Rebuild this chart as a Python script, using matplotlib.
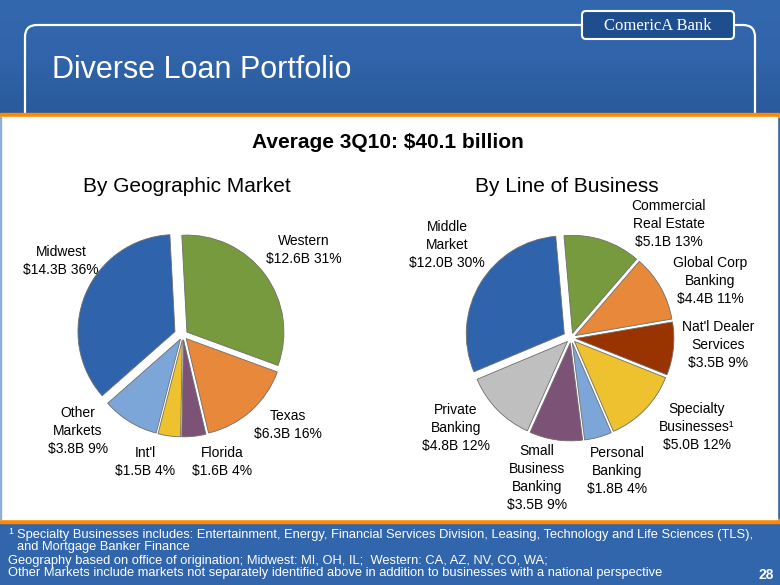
import matplotlib
matplotlib.use("Agg")
import matplotlib.pyplot as plt
import numpy as np
from matplotlib.patches import Rectangle, FancyBboxPatch
from matplotlib.colors import LinearSegmentedColormap

plt.rcParams['font.family'] = ['Liberation Sans', 'DejaVu Sans']

# data: geographic market (clockwise from top)
geo_names = ["Western", "Texas", "Florida", "Int'l", "Other\nMarkets", "Midwest"]
geo_values = [12.6, 6.3, 1.6, 1.5, 3.8, 14.3]
geo_pct = [31, 16, 4, 4, 9, 36]
geo_colors = ["#779A3F", "#E8883A", "#7D5277", "#EDC22E", "#7CA6D8", "#2F63AC"]

# data: line of business (clockwise from top)
lob_names = ["Commercial\nReal Estate", "Global Corp\nBanking", "Nat'l Dealer\nServices",
             "Specialty\nBusinesses\u00b9", "Personal\nBanking", "Small\nBusiness\nBanking",
             "Private\nBanking", "Middle\nMarket"]
lob_values = [5.1, 4.4, 3.5, 5.0, 1.8, 3.5, 4.8, 12.0]
lob_pct = [13, 11, 9, 12, 4, 9, 12, 30]
lob_colors = ["#779A3F", "#E8883A", "#993300", "#EDC22E", "#7CA6D8", "#7D5277", "#BFBFBF", "#2F63AC"]

# label centres in pixels (x, y from top)
geo_label_pos = [(304, 250), (288, 425), (222, 462), (145, 462), (78, 431), (61, 261)]
lob_label_pos = [(669, 224), (710, 281), (718, 345), (697, 427), (617, 471),
                 (537, 478), (456, 428), (447, 245)]

W, H = 780, 585
fig = plt.figure(figsize=(W / 100, H / 100), dpi=100)

# background axes in pixel coordinates
bg = fig.add_axes([0, 0, 1, 1])
bg.set_xlim(0, W)
bg.set_ylim(H, 0)
bg.axis('off')

blue = "#3165AC"
orange = "#FF8A00"
bg.add_patch(Rectangle((0, 0), W, H, color=blue, zorder=0))
# header gradient, a little darker towards the orange rule
grad = LinearSegmentedColormap.from_list("hdr", ["#3468AE", "#3164AA", "#2A5A9C"])
bg.imshow(np.linspace(0, 1, 100).reshape(-1, 1), cmap=grad, aspect="auto",
          extent=(0, W, 113, 0), zorder=0.5)
bg.set_xlim(0, W)
bg.set_ylim(H, 0)
# white frame line in header
bg.add_patch(FancyBboxPatch((25, 25), 730, 150, boxstyle="round,pad=0,rounding_size=12",
                            fc="none", ec="white", lw=1.6, zorder=1))
bg.add_patch(Rectangle((0, 113), W, 4, color=orange, zorder=2))
bg.add_patch(Rectangle((0, 519), W, 4, color=orange, zorder=2))
bg.add_patch(Rectangle((0, 117), 777, 402, color="white", zorder=3))
bg.add_patch(Rectangle((0, 117), 1, 402, color="#8DB0DA", zorder=3.5))
# logo
bg.add_patch(FancyBboxPatch((582, 11), 152, 28, boxstyle="round,pad=0,rounding_size=4",
                            fc="#1E4E8E", ec="white", lw=1.5, zorder=4))
bg.text(658, 26, "ComericA Bank", color="white", fontsize=12, family="Liberation Serif",
        ha="center", va="center", zorder=5)

bg.text(52, 70, "Diverse Loan Portfolio", color="white", fontsize=22, ha="left", va="center")
bg.text(388, 142, "Average 3Q10: $40.1 billion", fontsize=15, fontweight="bold",
        ha="center", va="center", zorder=5)
bg.text(187, 187, "By Geographic Market", fontsize=15, ha="center", va="center", zorder=5)
bg.text(567, 187, "By Line of Business", fontsize=15, ha="center", va="center", zorder=5)

# footnotes
foot = ['Liberation Sans Narrow', 'Liberation Sans']
fs = 9.3
bg.text(8, 531, "1", color="white", fontsize=6.5, family=foot, ha="left", va="center")
bg.text(17, 535, "Specialty Businesses includes: Entertainment, Energy, Financial Services Division, "
        "Leasing, Technology and Life Sciences (TLS),", color="white", fontsize=fs, family=foot,
        ha="left", va="center")
bg.text(17, 547, "and Mortgage Banker Finance", color="white", fontsize=fs, family=foot,
        ha="left", va="center")
bg.text(8, 561, "Geography based on office of origination; Midwest: MI, OH, IL;  Western: CA, AZ, NV, CO, WA;",
        color="white", fontsize=fs, family=foot, ha="left", va="center")
bg.text(8, 573, "Other Markets include markets not separately identified above in addition to "
        "businesses with a national perspective", color="white", fontsize=fs, family=foot,
        ha="left", va="center")
bg.text(766, 575, "28", color="white", fontsize=10, fontweight="bold", ha="center", va="center")


def pie_axes(cx, cy, scale, lim=1.3):
    size = 2 * lim * scale
    ax = fig.add_axes([(cx - size / 2) / W, (H - cy - size / 2) / H, size / W, size / H])
    ax.axis('off')
    return ax


ax1 = pie_axes(183, 335, 97)
explode1 = [0.05, 0.05, 0.05, 0.05, 0.05, 0.09]
ax1.pie(geo_values, colors=geo_colors, startangle=93, counterclock=False, explode=explode1,
        wedgeprops=dict(edgecolor="#6E6E6E", linewidth=0.6))
ax1.set_xlim(-1.3, 1.3)
ax1.set_ylim(-1.3, 1.3)
ax1.set_aspect('equal')

ax2 = pie_axes(571, 338, 98)
explode2 = [0.05] * 7 + [0.08]
ax2.pie(lob_values, colors=lob_colors, startangle=95, counterclock=False, explode=explode2,
        wedgeprops=dict(edgecolor="#6E6E6E", linewidth=0.6))
ax2.set_xlim(-1.3, 1.3)
ax2.set_ylim(-1.3, 1.3)
ax2.set_aspect('equal')

for name, val, pct, (x, y) in zip(geo_names, geo_values, geo_pct, geo_label_pos):
    bg.text(x, y, f"{name}\n${val:.1f}B {pct}%", fontsize=10, ha="center", va="center",
            linespacing=1.35, zorder=6)
for name, val, pct, (x, y) in zip(lob_names, lob_values, lob_pct, lob_label_pos):
    bg.text(x, y, f"{name}\n${val:.1f}B {pct}%", fontsize=10, ha="center", va="center",
            linespacing=1.35, zorder=6)

fig.savefig("out.png", dpi=100)
